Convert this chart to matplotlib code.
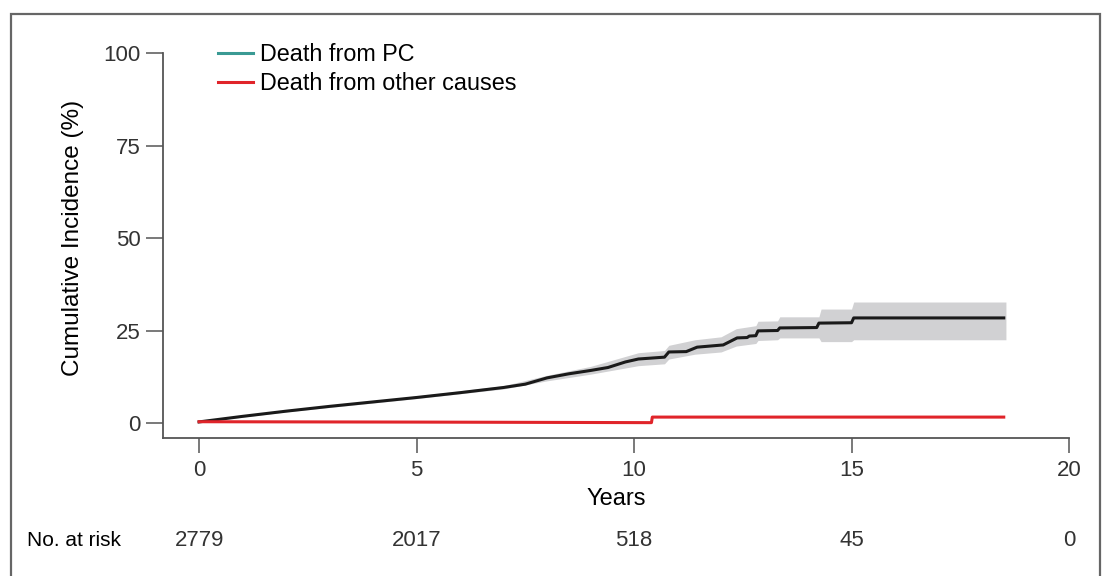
import matplotlib
matplotlib.use("Agg")
import matplotlib.pyplot as plt
from matplotlib.lines import Line2D
from matplotlib.patches import Rectangle

# cumulative incidence, death from PC (years, %)
pc_time = [0, 1, 2, 3, 4, 5, 6, 7, 7.5, 8, 8.5, 9, 9.4, 9.8, 10.1, 10.7,
           10.8, 11.2, 11.45, 12.05, 12.37, 12.6, 12.65, 12.8, 12.85, 13.3,
           13.35, 14.2, 14.25, 15.0, 15.05, 18.5]
pc_value = [0.3, 1.8, 3.2, 4.5, 5.7, 6.9, 8.2, 9.6, 10.5, 12.2, 13.3, 14.2,
            15.0, 16.5, 17.3, 17.8, 19.2, 19.3, 20.5, 21.1, 23.0, 23.1, 23.5,
            23.6, 24.9, 25.0, 25.7, 25.8, 27.0, 27.1, 28.4, 28.4]

# confidence band around PC curve
band_time = [0, 2, 5, 7, 8, 9, 10.1, 10.7, 10.8, 11.4, 12.0, 12.35, 12.8,
             12.85, 13.3, 13.35, 14.25, 14.3, 15.0, 15.05, 18.55]
band_lower = [0.2, 3.0, 6.6, 9.2, 11.4, 13.2, 15.5, 16.0, 17.3, 18.6, 19.2,
              20.8, 21.5, 22.3, 22.5, 23.0, 23.0, 22.0, 22.0, 22.5, 22.5]
band_upper = [0.4, 3.4, 7.3, 10.1, 12.9, 15.3, 19.0, 19.6, 21.0, 22.5, 23.3,
              25.5, 26.3, 27.5, 27.6, 28.7, 28.7, 30.8, 30.8, 32.7, 32.7]

# cumulative incidence, death from other causes
other_time = [0, 5, 10.4, 10.42, 18.5]
other_value = [0.35, 0.25, 0.1, 1.6, 1.6]

risk_years = [0, 5, 10, 15, 20]
risk_counts = ["2779", "2017", "518", "45", "0"]

y_ticks = [0, 25, 50, 75, 100]

FONT = ["Liberation Sans", "DejaVu Sans"]
AXIS_GREY = "#555555"
TEXT_GREY = "#333333"


def main():
    fig = plt.figure(figsize=(11.07, 5.76), dpi=100)
    ax = fig.add_axes([163 / 1107, 1 - 438 / 576, (1069 - 163) / 1107, (438 - 53) / 576])

    ax.fill_between(band_time, band_lower, band_upper, color="#d1d1d3", lw=0, zorder=1)
    ax.plot(pc_time, pc_value, color="#1a1a1a", lw=2.2, zorder=3)
    ax.plot(other_time, other_value, color="#e0242a", lw=2.2, zorder=3)

    ax.set_xlim(-0.83, 20)
    ax.set_ylim(-4.05, 100)
    ax.set_xticks(risk_years)
    ax.set_yticks(y_ticks)

    for side in ("top", "right"):
        ax.spines[side].set_visible(False)
    for side in ("left", "bottom"):
        ax.spines[side].set_color(AXIS_GREY)
        ax.spines[side].set_linewidth(1.3)

    ax.tick_params(axis="y", length=12, width=1.1, color=AXIS_GREY, pad=4.3)
    ax.tick_params(axis="x", length=11, width=1.1, color=AXIS_GREY, pad=5)
    for lab in ax.get_xticklabels() + ax.get_yticklabels():
        lab.set_family(FONT)
        lab.set_fontsize(16)
        lab.set_color(TEXT_GREY)

    ax.set_ylabel("Cumulative Incidence (%)", family=FONT, fontsize=17.5,
                  labelpad=14, y=0.52)
    ax.set_xlabel("Years", family=FONT, fontsize=17, labelpad=5)

    handles = [
        Line2D([], [], color="#3a9a94", lw=2.2),
        Line2D([], [], color="#e0242a", lw=2.2),
    ]
    ax.legend(handles, ["Death from PC", "Death from other causes"],
              loc="upper left", bbox_to_anchor=(0.05, 1.05), frameon=False,
              prop={"family": FONT, "size": 16.8}, handlelength=1.5,
              handletextpad=0.3, labelspacing=0.25, borderaxespad=0)

    # number at risk row
    risk_y = 1 - 540 / 576
    fig.text(27 / 1107, risk_y, "No. at risk", family=FONT, fontsize=15,
             va="center", ha="left")
    for yr, cnt in zip(risk_years, risk_counts):
        xf = fig.transFigure.inverted().transform(ax.transData.transform((yr, 0)))[0]
        fig.text(xf, risk_y, cnt, family=FONT, fontsize=16, va="center",
                 ha="center", color=TEXT_GREY)

    # outer frame
    fig.patches.append(Rectangle((11 / 1107, -0.05), (1100 - 11) / 1107, 1.05 - 14 / 576,
                                 transform=fig.transFigure, fill=False,
                                 edgecolor="#666666", lw=1.6))

    fig.savefig("out.png", dpi=100)


if __name__ == "__main__":
    main()
